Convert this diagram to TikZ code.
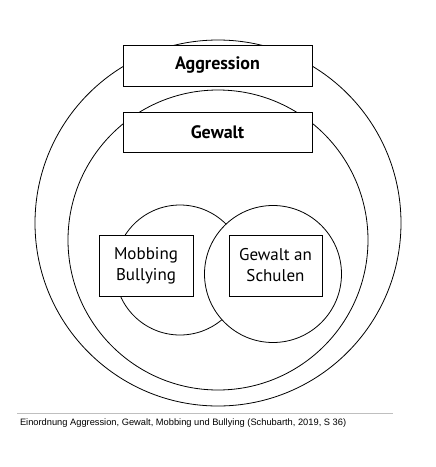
\documentclass[tikz,border=0pt]{standalone}
\usepackage{fontspec}
\setmainfont{PT Sans}
\newfontfamily\capfont{Liberation Sans}
\begin{document}
\begin{tikzpicture}[x=1pt,y=-1pt]
\tikzset{ inner sep=0pt, outer sep=0pt,
  ring/.style={draw, circle, line width=0.8pt, fill=white},
  kasten/.style={draw, rectangle, line width=0.8pt, fill=white, align=center},
  titel/.style={font=\bfseries\fontsize{18}{20}\selectfont},
  innen/.style={font=\fontsize{17}{21}\selectfont},
}

\useasboundingbox (0,0) rectangle (436,467);

%%% Kreise

% Aggression
\node [ring, minimum size=366] (KA) at (218,223) { };
% Gewalt
\node [ring, minimum size=300] (KG) at (218,240) { };
% Mobbing
\node [ring, minimum size=130] (KM) at (180,270) { };
% Gewalt an Schulen
\node [ring, minimum size=137] (KS) at (273,274) { };

%%% Kaesten

\node [kasten, titel, minimum width=189, minimum height=41] (Agg) at (217.5,65.5) {Aggression};
\node [kasten, titel, minimum width=189, minimum height=40] (Gew) at (217.5,132) {Gewalt};
\node [kasten, innen, minimum width=94, minimum height=61] (Mob) at (146,265.5) {Mobbing\\Bullying};
\node [kasten, innen, minimum width=93, minimum height=61] (Sch) at (275.5,265.5) {Gewalt an\\Schulen};

%%% Unterschrift

\coordinate (L0) at (17,413);
\coordinate (L1) at (393,413);
\draw [lightgray, line width=1pt] (L0) -- (L1);
\node [anchor=west, font=\capfont\fontsize{9.3}{11}\selectfont] (cap) at (20,423) {Einordnung Aggression, Gewalt, Mobbing und Bullying (Schubarth, 2019, S 36)};

\end{tikzpicture}
\end{document}
